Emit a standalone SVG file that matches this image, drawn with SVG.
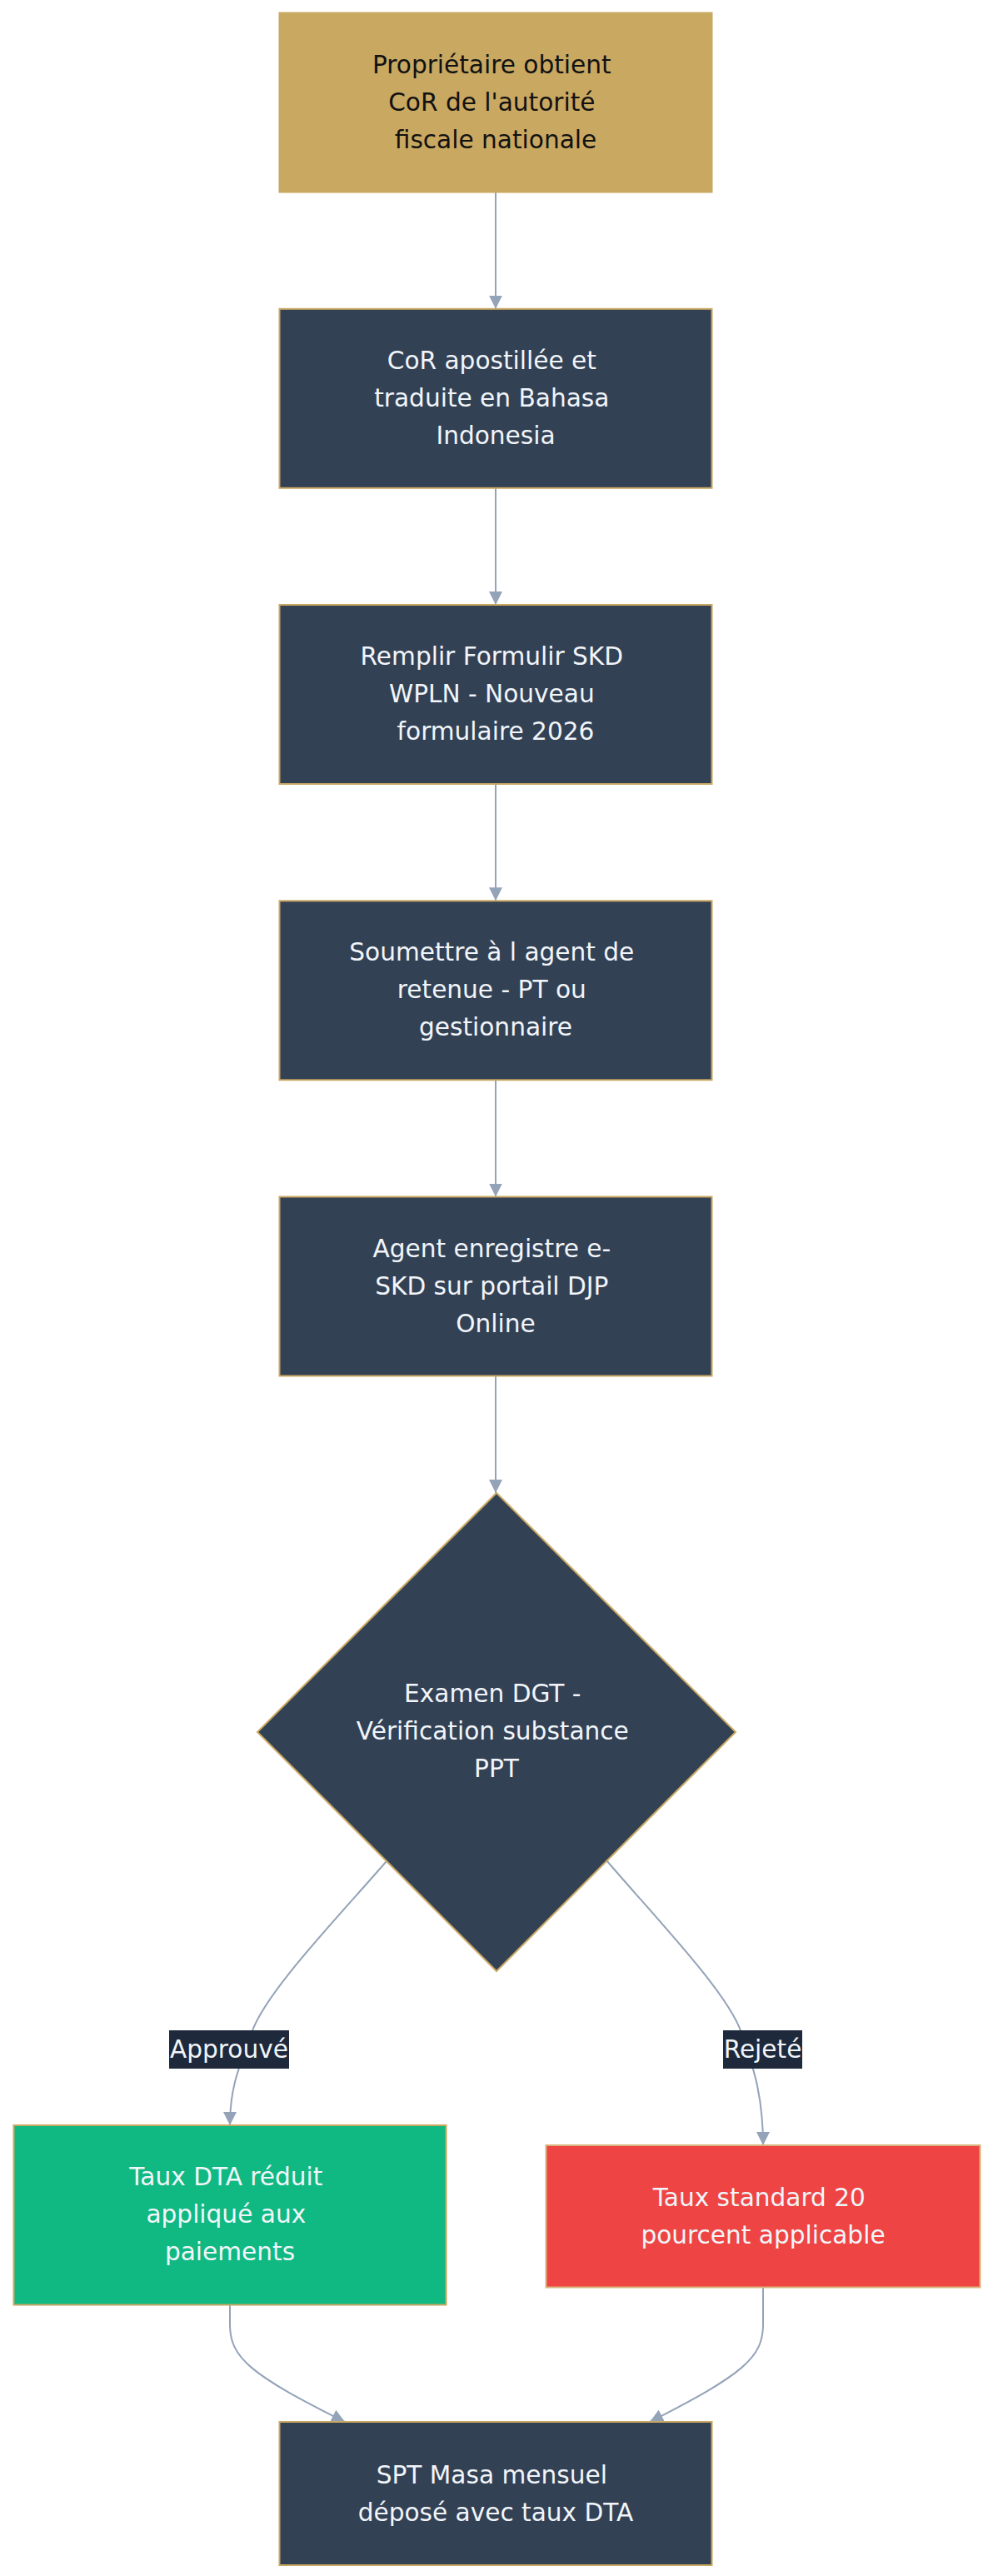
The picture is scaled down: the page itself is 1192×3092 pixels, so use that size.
<svg xmlns="http://www.w3.org/2000/svg" width="1192" height="3092" viewBox="0 0 1192 3092">
<style>
.bg{fill:#ffffff}
.n{fill:#334155;stroke:#C9A862;stroke-width:2}
.gold{fill:#C9A862;stroke:#C9A862;stroke-width:2}
.green{fill:#10B981;stroke:#C9A862;stroke-width:2}
.red{fill:#EF4444;stroke:#D9B27A;stroke-width:2}
.t{font-family:"DejaVu Sans",sans-serif;font-size:29.6px;fill:#F1F5F9;text-anchor:middle}
.dark{fill:#111111}
.e{fill:none;stroke:#94A3B8;stroke-width:2}
.lb{fill:#1E293B}
</style>
<defs>
<marker id="arr" viewBox="0 0 10 10" refX="10" refY="5" markerUnits="userSpaceOnUse" markerWidth="16" markerHeight="16" orient="auto">
<path d="M0,0 L10,5 L0,10 z" fill="#94A3B8"/>
</marker>
</defs>
<rect class="bg" x="0" y="0" width="1192" height="3092"/>
<g id="connectors">
<path class="e" d="M595,230.5 L595,370.8" marker-end="url(#arr)"/>
<path class="e" d="M595,585.8 L595,726" marker-end="url(#arr)"/>
<path class="e" d="M595,941 L595,1081.3" marker-end="url(#arr)"/>
<path class="e" d="M595,1296.3 L595,1436.5" marker-end="url(#arr)"/>
<path class="e" d="M595,1651.5 L595,1792" marker-end="url(#arr)"/>
<path class="e" d="M464,2234 C405,2302 318,2392 302,2440 C290,2476 276,2500 276,2551" marker-end="url(#arr)"/>
<path class="e" d="M728,2233 C787,2302 874,2392 890,2440 C902,2476 916,2510 916,2575" marker-end="url(#arr)"/>
<path class="e" d="M276,2767 L276,2790 C276,2830 300,2850 414,2907" marker-end="url(#arr)"/>
<path class="e" d="M916,2746 L916,2790 C916,2830 892,2850 780,2907" marker-end="url(#arr)"/>
<g id="label-approuve">
<rect class="lb" x="203" y="2437" width="144" height="46"/>
<text class="t" x="275" y="2470">Approuvé</text>
</g>
<g id="label-rejete">
<rect class="lb" x="868" y="2437" width="95" height="46"/>
<text class="t" x="915.5" y="2470">Rejeté</text>
</g>
</g>
<g id="n1">
<rect class="gold" x="335.5" y="15.5" width="519" height="215"/>
<text class="t dark" x="590.3" y="87.5">Propriétaire obtient</text>
<text class="t dark" x="590.3" y="132.5">CoR de l'autorité</text>
<text class="t dark" x="595" y="177.5">fiscale nationale</text>
</g>
<g id="n2">
<rect class="n" x="335.5" y="370.8" width="519" height="215"/>
<text class="t" x="590.3" y="442.8">CoR apostillée et</text>
<text class="t" x="590.3" y="487.8">traduite en Bahasa</text>
<text class="t" x="595" y="532.8">Indonesia</text>
</g>
<g id="n3">
<rect class="n" x="335.5" y="726" width="519" height="215"/>
<text class="t" x="590.3" y="798">Remplir Formulir SKD</text>
<text class="t" x="590.3" y="843">WPLN - Nouveau</text>
<text class="t" x="595" y="888">formulaire 2026</text>
</g>
<g id="n4">
<rect class="n" x="335.5" y="1081.3" width="519" height="215"/>
<text class="t" x="590.3" y="1153.3">Soumettre à l agent de</text>
<text class="t" x="590.3" y="1198.3">retenue - PT ou</text>
<text class="t" x="595" y="1243.3">gestionnaire</text>
</g>
<g id="n5">
<rect class="n" x="335.5" y="1436.5" width="519" height="215"/>
<text class="t" x="590.3" y="1508.5">Agent enregistre e-</text>
<text class="t" x="590.3" y="1553.5">SKD sur portail DJP</text>
<text class="t" x="595" y="1598.5">Online</text>
</g>
<g id="decision">
<polygon class="n" points="596,1792 883,2079 596,2366 309,2079"/>
<text class="t" x="591.3" y="2043">Examen DGT -</text>
<text class="t" x="591.3" y="2088">Vérification substance</text>
<text class="t" x="596" y="2133">PPT</text>
</g>
<g id="approved">
<rect class="green" x="16.5" y="2551" width="519" height="215.5"/>
<text class="t" x="271.3" y="2623">Taux DTA réduit</text>
<text class="t" x="271.3" y="2668">appliqué aux</text>
<text class="t" x="276" y="2713">paiements</text>
</g>
<g id="rejected">
<rect class="red" x="655.5" y="2575" width="521" height="170.5"/>
<text class="t" x="911.3" y="2648">Taux standard 20</text>
<text class="t" x="916" y="2693">pourcent applicable</text>
</g>
<g id="spt">
<rect class="n" x="335.5" y="2907" width="519" height="172"/>
<text class="t" x="590.3" y="2980.5">SPT Masa mensuel</text>
<text class="t" x="595" y="3025.5">déposé avec taux DTA</text>
</g>
</svg>
